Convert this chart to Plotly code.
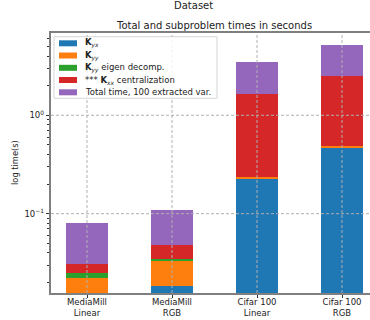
import plotly.graph_objects as go

# ---------------- data ----------------
categories = ["MediaMill<br>Linear", "MediaMill<br>RGB", "Cifar 100<br>Linear", "Cifar 100<br>RGB"]
series_names = [
    "<b>K</b><sub><i>yx</i></sub>",
    "<b>K</b><sub><i>yy</i></sub>",
    "<b>K</b><sub><i>yy</i></sub> eigen decomp.",
    "*** <b>K</b><sub><i>xx</i></sub> centralization",
    "Total time, 100 extracted var.",
]
kyx = [0.0150, 0.0184, 0.225, 0.469]
kyy = [0.0074, 0.0154, 0.013, 0.019]
kyy_eig = [0.0026, 0.0009, 0.0004, 0.0004]
kxx_central = [0.0060, 0.0134, 1.42, 2.04]
total_rest = [0.0494, 0.0609, 1.82, 2.65]
series_values = [kyx, kyy, kyy_eig, kxx_central, total_rest]
colors = ["#1f77b4", "#ff7f0e", "#2ca02c", "#d62728", "#9467bd"]

y_major = [0.1, 1]
y_major_text = ["10<sup>−1</sup>", "10<sup>0</sup>"]
y_minor = [0.02, 0.03, 0.04, 0.05, 0.06, 0.07, 0.08, 0.09,
           0.2, 0.3, 0.4, 0.5, 0.6, 0.7, 0.8, 0.9,
           2, 3, 4, 5, 6]

# ---------------- layout geometry ----------------
W, H = 370, 320
ML, MR, MT, MB = 51, 0, 33, 27
PW, PH = W - ML - MR, H - MT - MB


def px(x):
    return (x - ML) / PW


def py(y):
    return (H - MB - y) / PH


FONT = "DejaVu Sans"
fig = go.Figure()
for name, vals, col in zip(series_names, series_values, colors):
    fig.add_trace(go.Bar(x=categories, y=vals, name=name, marker=dict(color=col, line=dict(width=0)),
                         showlegend=False, hoverinfo="skip"))

shapes = []
# gridlines above bars (matplotlib style)
for c in categories:
    shapes.append(dict(type="line", xref="x", yref="paper", x0=c, x1=c, y0=0, y1=1, layer="above",
                       line=dict(color="#b0b0b0", width=1, dash="3px,2px")))
for v in y_major:
    shapes.append(dict(type="line", xref="paper", yref="y", x0=0, x1=1, y0=v, y1=v, layer="above",
                       line=dict(color="#b0b0b0", width=1, dash="3px,2px")))

# custom legend
lx0, lx1, ly0, ly1 = 54, 217, 36.7, 98.3
shapes.append(dict(type="rect", xref="paper", yref="paper", x0=px(lx0), x1=px(lx1), y0=py(ly1), y1=py(ly0),
                   layer="above", fillcolor="rgba(255,255,255,0.85)", line=dict(color="#d5d5d5", width=1)))
annotations = []
row_y = [43.3, 55.5, 67.8, 80.0, 92.3]
for i, (name, col) in enumerate(zip(series_names, colors)):
    yc = row_y[i]
    shapes.append(dict(type="rect", xref="paper", yref="paper", x0=px(59), x1=px(77), y0=py(yc + 3),
                       y1=py(yc - 3), layer="above", fillcolor=col, line=dict(width=0)))
    annotations.append(dict(text=name, xref="paper", yref="paper", x=px(83), y=py(yc), xanchor="left",
                            yanchor="middle", showarrow=False, font=dict(family=FONT, size=8.5, color="#222")))

annotations.append(dict(text="Dataset", xref="paper", yref="paper", x=px(193), y=py(6), xanchor="center",
                        yanchor="middle", showarrow=False, font=dict(family=FONT, size=10, color="#222")))
annotations.append(dict(text="Total and subproblem times in seconds", xref="paper", yref="paper", x=px(214),
                        y=py(25.5), xanchor="center", yanchor="middle", showarrow=False,
                        font=dict(family=FONT, size=10, color="#222")))
annotations.append(dict(text="log time(s)", xref="paper", yref="paper", x=px(15), y=py(163), xanchor="center",
                        yanchor="middle", textangle=-90, showarrow=False,
                        font=dict(family=FONT, size=8.3, color="#222")))

fig.update_layout(
    width=W, height=H,
    margin=dict(l=ML, r=MR, t=MT, b=MB, pad=0, autoexpand=False),
    barmode="stack", bargap=0.5,
    plot_bgcolor="white", paper_bgcolor="white",
    font=dict(family=FONT, size=8.3, color="#222"),
    shapes=shapes, annotations=annotations,
    showlegend=False,
)
fig.update_xaxes(
    type="category", range=[(ML - 87) / 85, (W - 87) / 85], automargin=False,
    showgrid=False, showline=True, linecolor="rgba(0,0,0,0.5)", linewidth=1.6, mirror=True,
    ticks="outside", ticklen=3, tickcolor="#333", tickwidth=1, ticklabelstandoff=-3,
    tickfont=dict(family=FONT, size=8.5, color="#222"),
)
fig.update_yaxes(
    type="log", range=[-1.806, 0.836], automargin=False,
    showgrid=False, showline=True, linecolor="rgba(0,0,0,0.5)", linewidth=1.6, mirror=False,
    tickmode="array", tickvals=y_major, ticktext=y_major_text,
    ticks="outside", ticklen=3.5, tickcolor="#333", tickwidth=1,
    tickfont=dict(family=FONT, size=8.5, color="#222"),
    minor=dict(tickmode="array", tickvals=y_minor, ticks="outside", ticklen=2, tickcolor="#333",
               tickwidth=0.8, showgrid=False),
)

fig.write_html("out.html", config={"displayModeBar": False},
               post_script="document.body.style.margin='0px';")
